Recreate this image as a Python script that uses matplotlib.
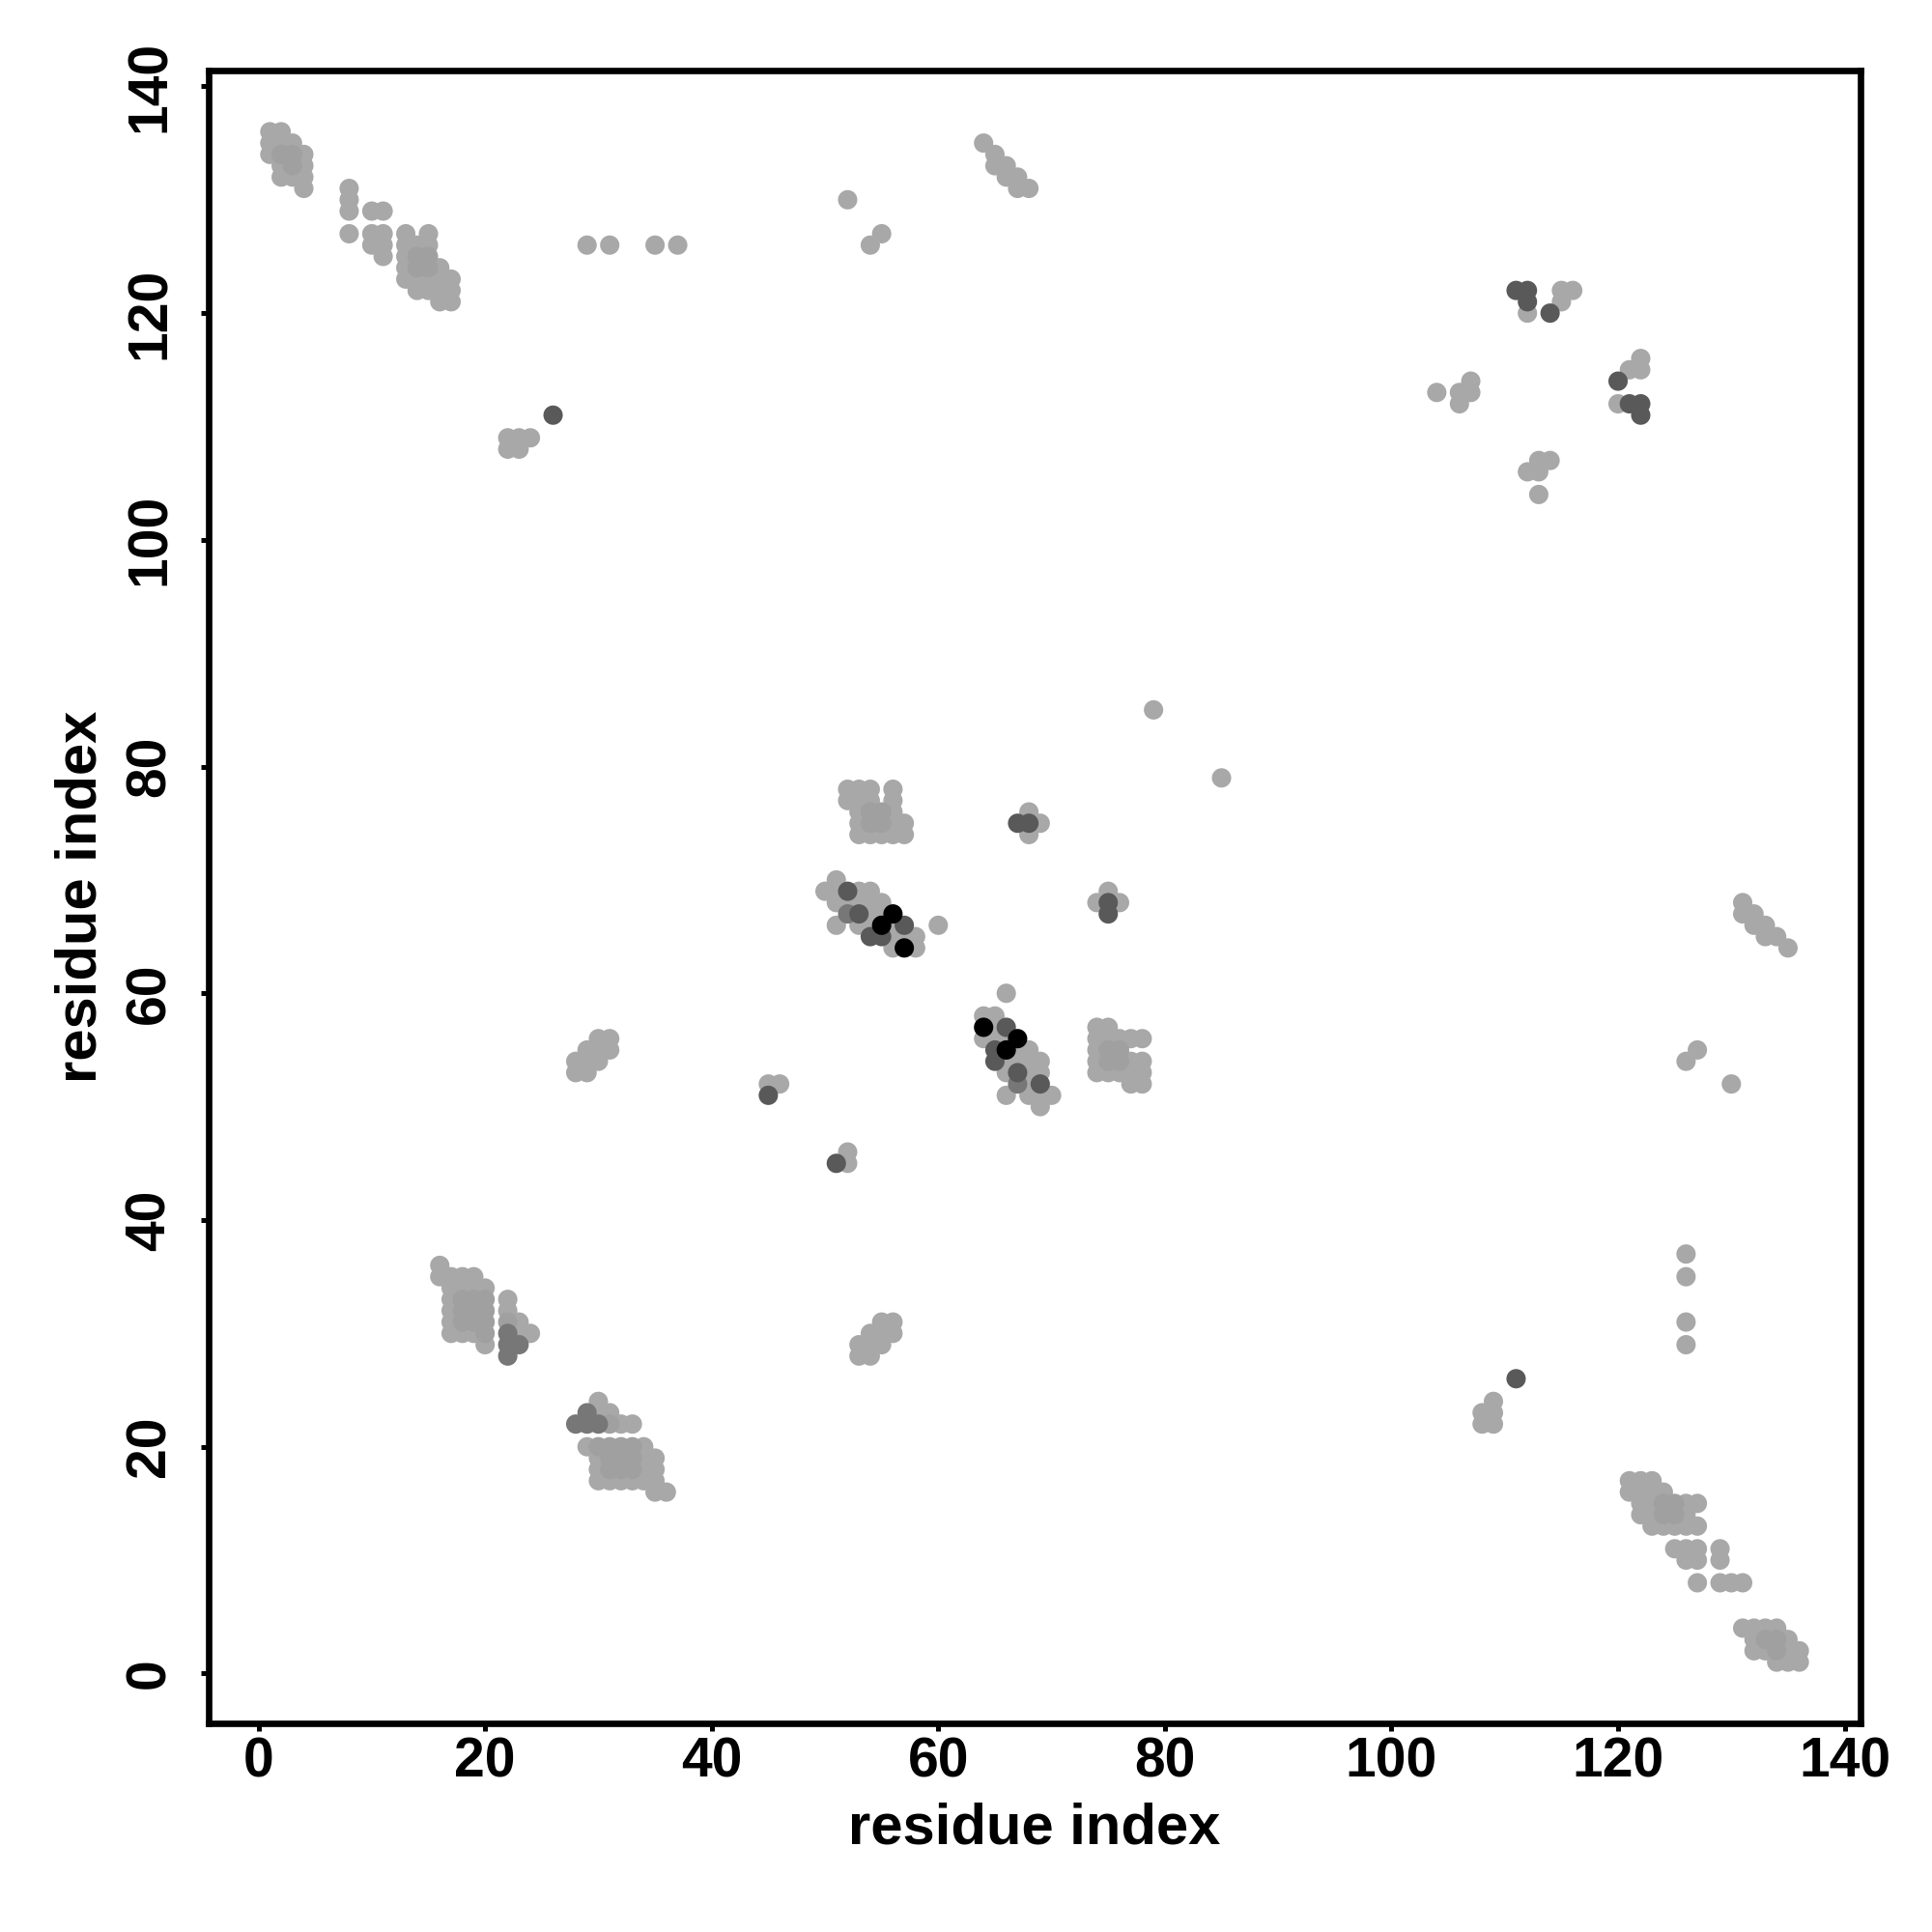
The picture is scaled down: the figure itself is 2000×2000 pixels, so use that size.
import numpy as np
import matplotlib.pyplot as plt

plt.rcParams['font.family'] = ['Liberation Sans', 'DejaVu Sans']
plt.rcParams['font.weight'] = 'bold'

# contacts above the diagonal (i < j); the map is symmetric so each one is drawn at (i,j) and (j,i)
# shade: 0 light grey .. 4 black
res_i = [1, 1, 1, 2, 2, 2, 2, 2, 3, 3, 3, 3, 4, 4, 4, 4,
         8, 8, 8, 8, 10, 10, 10, 11, 11, 11, 11,
         13, 13, 13, 13, 13, 14, 14, 14, 14, 14, 15, 15, 15, 15, 15, 15, 16, 16, 16, 16, 17, 17, 17,
         29, 31, 35, 37,
         22, 22, 23, 23, 24, 26,
         52, 54, 55,
         64, 65, 65, 66, 66, 67, 67, 68,
         104, 106, 106, 107, 107, 111, 112, 112, 112, 114, 115, 115, 116,
         79,
         52, 52, 53, 53, 53, 53, 53, 54, 54, 54, 54, 54, 55, 55, 55, 56, 56, 56, 56, 56, 57, 57,
         67, 68, 68, 68, 69,
         50, 51, 51, 52, 53, 54, 51, 52, 53, 54, 55, 52, 53, 54, 55, 56,
         51, 53, 54, 55, 56, 57, 60, 54, 55, 56, 57, 58, 56, 57, 58,
         45, 45, 46,
         28, 29, 28, 29, 30, 29, 30, 31, 30, 31,
         16, 16, 17, 17, 17, 17, 17, 17, 18, 18, 18, 18, 18, 18, 19, 19, 19, 19, 19, 19,
         20, 20, 20, 20, 20, 20, 22, 22, 22, 22, 22, 22, 23, 23, 23, 24]
res_j = [134, 135, 136, 132, 133, 134, 135, 136, 132, 133, 134, 135, 131, 132, 133, 134,
         127, 129, 130, 131, 126, 127, 129, 125, 126, 127, 129,
         123, 124, 125, 126, 127, 122, 123, 124, 125, 126, 122, 123, 124, 125, 126, 127, 121, 122, 123, 124, 121, 122, 123,
         126, 126, 126, 126,
         108, 109, 108, 109, 109, 111,
         130, 126, 127,
         135, 133, 134, 132, 133, 131, 132, 131,
         113, 112, 113, 113, 114, 122, 122, 121, 120, 120, 121, 122, 122,
         85,
         77, 78, 74, 75, 76, 77, 78, 74, 75, 76, 77, 78, 74, 75, 76, 74, 75, 76, 77, 78, 74, 75,
         75, 75, 74, 76, 75,
         69, 70, 69, 69, 69, 69, 68, 68, 68, 68, 68, 67, 67, 67, 67, 67,
         66, 66, 66, 66, 66, 66, 66, 65, 65, 65, 65, 65, 64, 64, 64,
         51, 52, 52,
         53, 53, 54, 54, 54, 55, 55, 55, 56, 56,
         35, 36, 30, 31, 32, 33, 34, 35, 30, 31, 32, 33, 34, 35, 30, 31, 32, 33, 34, 35,
         29, 30, 31, 32, 33, 34, 28, 29, 30, 31, 32, 33, 29, 30, 31, 30]
shade = [0, 0, 0, 0, 0, 1, 0, 0, 0, 1, 1, 0, 0, 0, 0, 0,
         0, 0, 0, 0, 0, 0, 0, 0, 0, 0, 0,
         0, 0, 0, 0, 0, 0, 0, 1, 1, 0, 0, 0, 1, 1, 0, 0, 0, 0, 0, 0, 0, 0, 0,
         0, 0, 0, 0,
         0, 0, 0, 0, 0, 3,
         0, 0, 0,
         0, 0, 0, 0, 0, 0, 0, 0,
         0, 0, 0, 0, 0, 3, 3, 3, 0, 3, 0, 0, 0,
         0,
         0, 0, 0, 0, 0, 0, 0, 0, 1, 1, 0, 0, 0, 1, 1, 0, 0, 0, 0, 0, 0, 0,
         3, 3, 0, 0, 0,
         0, 0, 0, 3, 0, 0, 0, 0, 0, 0, 0, 2, 3, 0, 0, 4,
         0, 0, 0, 4, 0, 3, 0, 3, 3, 0, 0, 0, 0, 4, 0,
         3, 0, 0,
         0, 0, 0, 0, 0, 0, 0, 0, 0, 0,
         0, 0, 0, 0, 0, 0, 0, 0, 0, 1, 1, 1, 0, 0, 0, 1, 1, 1, 0, 0,
         0, 1, 1, 1, 1, 0, 2, 2, 2, 1, 0, 0, 2, 0, 0, 0]

greys = ['#a8a8a8', '#a0a0a0', '#777777', '#595959', '#000000']

x = np.array(res_i + res_j)
y = np.array(res_j + res_i)
lv = np.array(shade + shade)
order = np.argsort(lv, kind='stable')
colors = [greys[k] for k in lv[order]]

fig = plt.figure(figsize=(10, 10), dpi=200)
ax = fig.add_axes([0.108, 0.108, 0.855, 0.8555])
ax.scatter(x[order], y[order], s=52, c=colors, linewidths=0)

# R style axis range: data range plus 4% on both sides
lo, hi = min(x.min(), y.min()), max(x.max(), y.max())
pad = 0.04 * (hi - lo)
ax.set_xlim(lo - pad, hi + pad)
ax.set_ylim(lo - pad, hi + pad)

ticks = np.arange(0, 141, 20)
ax.set_xticks(ticks)
ax.set_yticks(ticks)
ax.set_xticklabels([str(t) for t in ticks], fontsize=20.5, fontweight='bold')
ax.set_yticklabels([str(t) for t in ticks], fontsize=20.5, fontweight='bold',
                   rotation=90, va='center')
ax.tick_params(axis='both', direction='out', length=3, width=1.8)
ax.tick_params(axis='x', pad=2)
ax.tick_params(axis='y', pad=9)
for sp in ax.spines.values():
    sp.set_linewidth(2.4)

ax.set_xlabel('residue index', fontsize=21.5, fontweight='bold', labelpad=5)
ax.set_ylabel('residue index', fontsize=21.5, fontweight='bold', labelpad=6)

fig.savefig('out.png', dpi=200, facecolor='white')
